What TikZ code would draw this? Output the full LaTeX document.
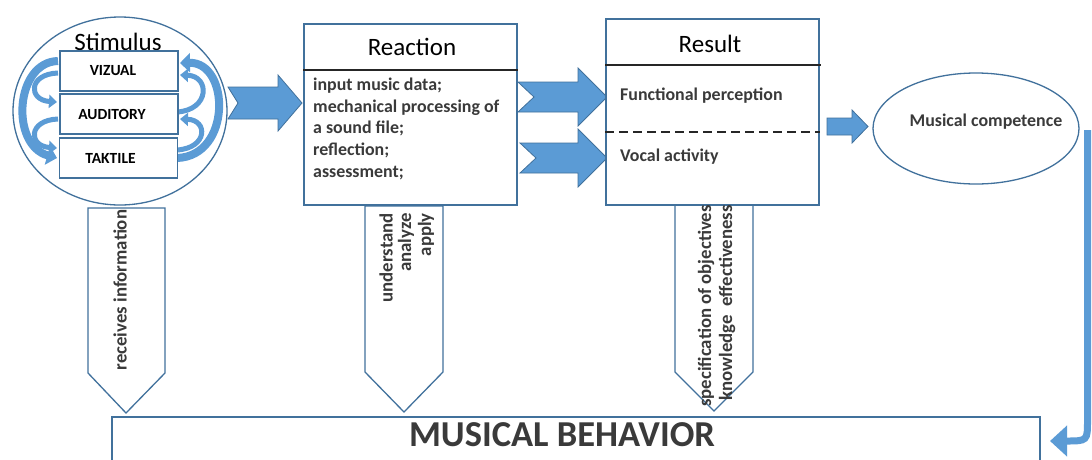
\documentclass[tikz,border=0pt]{standalone}
\usepackage{fontspec}
\setmainfont{Carlito}
\usetikzlibrary{arrows.meta,shapes.geometric}
\definecolor{ablue}{HTML}{5B9BD5}
\definecolor{oblue}{HTML}{41719C}
\definecolor{txt}{HTML}{3A3A3A}
\begin{document}
\begin{tikzpicture}[x=1pt,y=-1pt,
  box/.style={draw=oblue,line width=1.3pt,fill=white,inner sep=0pt},
  oval/.style={draw=oblue,line width=1.3pt,ellipse,inner sep=0pt},
  blockarrow/.style={fill=ablue,draw=oblue,line width=0.8pt},
  downarrow/.style={draw=oblue,line width=1.3pt,fill=white},
  carrow/.style={draw=ablue,line width=5pt,-{Triangle[length=8pt,width=13pt]}},
  bigcarrow/.style={draw=ablue,line width=8pt,-{Triangle[length=10pt,width=19pt]}},
  title/.style={font=\fontsize{25}{30}\selectfont,text=black,inner sep=0pt},
  body/.style={font=\fontsize{17.9}{21.8}\selectfont\bfseries,text=txt,inner sep=0pt},
  small/.style={font=\fontsize{15.5}{18}\selectfont\bfseries,text=black,inner sep=0pt},
  vtext/.style={font=\fontsize{18.8}{21}\selectfont\bfseries,text=txt,inner sep=0pt,rotate=90},
  sep/.style={draw=black!85,line width=1.2pt}]
\clip (0,0) rectangle (1092,459);
\fill[white] (0,0) rectangle (1092,459);

% downward pentagon arrows
\draw[downarrow] (88,208) -- (165,208) -- (165,373) -- (126,413) -- (88,373) -- cycle;
\draw[downarrow] (365,206) -- (443,206) -- (443,372) -- (404,412) -- (365,372) -- cycle;
\draw[downarrow] (675,205) -- (753,205) -- (753,372) -- (714,411) -- (675,372) -- cycle;

% Stimulus
\node[oval,minimum width=214pt,minimum height=188pt] (stim) at (120,111) {};
\node[title] (stimt) at (118,42) {Stimulus};

% curved arrows left
\draw[bigcarrow] (58,61) .. controls (15,62) and (10,145) .. (57,158);
\draw[carrow] (58,73) .. controls (28,74) and (28,100) .. (57,102);
\draw[carrow] (58,119) .. controls (28,120) and (28,146) .. (57,148);
% curved arrows right
\draw[bigcarrow] (177,158) .. controls (232,156) and (230,62) .. (180,63);
\draw[carrow] (177,112) .. controls (210,110) and (210,76) .. (180,75);
\draw[carrow] (177,150) .. controls (208,148) and (208,120) .. (180,119);

\node[box,minimum width=118pt,minimum height=40pt] (viz) at (119,71) {};
\node[box,minimum width=118pt,minimum height=40pt] (aud) at (119,114) {};
\node[box,minimum width=118pt,minimum height=40pt] (tak) at (118.5,158) {};
\node[small] at ([xshift=-6pt]viz.center) {VIZUAL};
\node[small] at ([xshift=-7pt]aud.center) {AUDITORY};
\node[small] at ([xshift=-8pt]tak.center) {TAKTILE};

% block arrows
\draw[blockarrow] (228,87) -- (278,87) -- (278,75) -- (302,103) -- (278,131) -- (278,119) -- (228,119) -- (238,103) -- cycle;
\draw[blockarrow] (518,82) -- (578,82) -- (578,68) -- (607,97) -- (578,126) -- (578,112) -- (518,112) -- (534,97) -- cycle;
\draw[blockarrow] (520,143) -- (578,143) -- (578,129) -- (607,158) -- (578,187) -- (578,173) -- (520,173) -- (536,158) -- cycle;
\draw[blockarrow] (827,118) -- (852,118) -- (852,110) -- (868,126.5) -- (852,143) -- (852,135) -- (827,135) -- cycle;

% Reaction
\node[box,minimum width=213pt,minimum height=181pt] (react) at (410.5,114.5) {};
\draw[sep] (react.west |- 0,70) -- (react.east |- 0,70);
\node[title] at (412,47) {Reaction};
\node[body,align=left,anchor=north west] (reactbody) at (313,77.5) {input music data;\\mechanical processing of\\a sound file;\\reflection;\\assessment;};

% Result
\node[box,minimum width=213pt,minimum height=186pt] (result) at (712.5,112) {};
\draw[sep] (result.west |- 0,65) -- ([xshift=1pt]result.east |- 0,65);
\draw[sep,dash pattern=on 9pt off 5pt] (result.west |- 0,132) -- (result.east |- 0,132);
\node[title] at (710,44) {Result};
\node[body,anchor=west] (fp) at (620,96) {Functional perception};
\node[body,anchor=west] (va) at (620,157) {Vocal activity};

% Musical competence
\node[oval,minimum width=206pt,minimum height=111pt] (mc) at (976,128.5) {};
\node[body] at (986,122) {Musical competence};

% Musical behavior
\node[box,minimum width=928pt,minimum height=63pt] (mb) at (576,448.5) {};
\node[font=\fontsize{36.5}{40}\selectfont\bfseries,text=txt,inner sep=0pt] at (562,435) {MUSICAL BEHAVIOR};

% bent arrow
\coordinate (bstart) at (1087.5,130);
\coordinate (bend) at (1050,441);
\draw[draw=ablue,line width=7pt,-{Triangle[length=17pt,width=30pt]}] (bstart) -- (1087.5,420) .. controls (1087.5,441) .. (bend);

% vertical texts
\node[vtext] at (120,290) {receives information};
\node[vtext,anchor=east] at (386,213) {understand};
\node[vtext,anchor=east] at (406,213) {analyze};
\node[vtext,anchor=east] at (426,213) {apply};
\node[vtext,anchor=east] at (706,205) {specification of objectives};
\node[vtext,anchor=east] at (727,205) {knowledge\ \ effectiveness};
\end{tikzpicture}
\end{document}
